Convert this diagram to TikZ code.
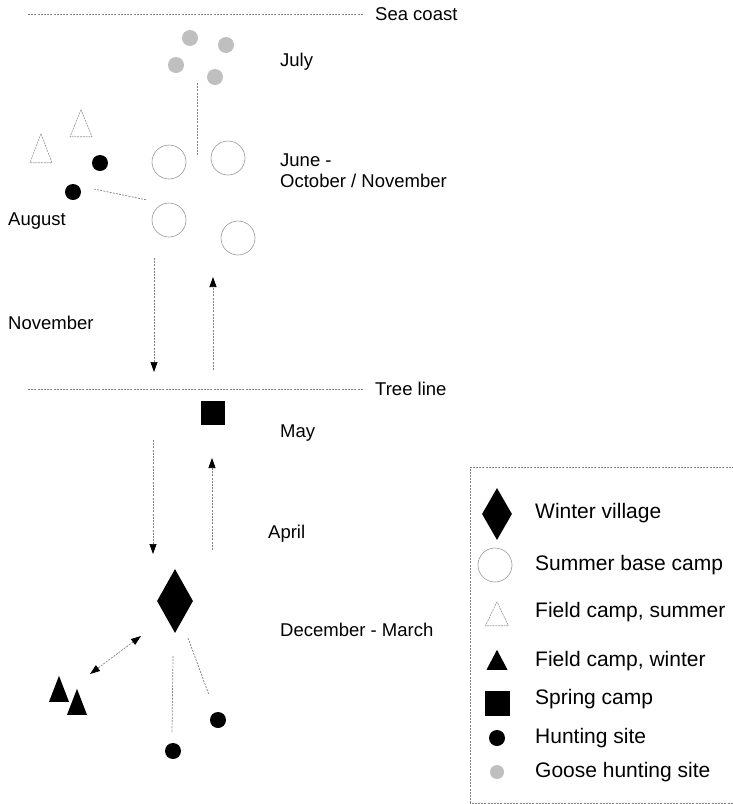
\documentclass[tikz,border=0pt]{standalone}
\usepackage{fontspec}
\setmainfont{Liberation Sans}
\usetikzlibrary{shapes.geometric,arrows.meta}
\tikzstyle{huntSite}=[shape = circle, minimum size = 16pt, inner sep = 0pt, fill = black]
\tikzstyle{gooseSite}=[shape = circle, minimum size = 16pt, inner sep = 0pt, fill = gray!50]
\tikzstyle{baseCamp}=[shape = circle, minimum size = 34pt, inner sep = 0pt, draw = gray!80, line width = 0.6pt]
\tikzstyle{fieldSummer}=[shape = isosceles triangle, shape border rotate = 90, isosceles triangle stretches, minimum width = 22pt, minimum height = 27pt, inner sep = 0pt, anchor = south, draw = gray!80, line width = 0.6pt, dash pattern = on 2pt off 0.8pt]
\tikzstyle{fieldWinter}=[shape = isosceles triangle, shape border rotate = 90, isosceles triangle stretches, minimum width = 20pt, minimum height = 26pt, inner sep = 0pt, anchor = south, fill = black]
\tikzstyle{winterVillage}=[shape = diamond, minimum width = 36pt, minimum height = 64pt, inner sep = 0pt, fill = black]
\tikzstyle{springCamp}=[shape = rectangle, minimum size = 24pt, inner sep = 0pt, fill = black]

\begin{document}
\begin{tikzpicture}[x = 1pt, y = -1pt]
\tikzstyle{monthText} = [anchor = west, inner sep = 0pt, font = \fontsize{18.5}{22}\selectfont]
\tikzstyle{keyText} = [anchor = west, inner sep = 0pt, font = \fontsize{21}{25}\selectfont]
\tikzstyle{trail} = [gray, line width = 0.7pt, dash pattern = on 2pt off 1.2pt]
\tikzstyle{move} = [trail, -{Triangle[length = 10pt, width = 7pt, black]}]
\tikzstyle{moveBoth} = [trail, {Triangle[length = 10pt, width = 7pt, black]}-{Triangle[length = 10pt, width = 7pt, black]}]
\useasboundingbox (0,0) rectangle (733,804);
% lines
\coordinate (seaL) at (28,14);
\coordinate (seaR) at (364,14);
\coordinate (treeL) at (28,389);
\coordinate (treeR) at (364,389);
\draw[trail] (seaL) -- (seaR);
\draw[trail] (treeL) -- (treeR);
\node[monthText] (sea) at (375,14) {Sea coast};
\node[monthText] (tree) at (375,389) {Tree line};
% summer, coast
\node[gooseSite] (g0) at (190,38) {};
\node[gooseSite] (g1) at (226,45) {};
\node[gooseSite] (g2) at (176,65) {};
\node[gooseSite] (g3) at (215,77) {};
\node[baseCamp] (c0) at (169,162) {};
\node[baseCamp] (c1) at (228,158) {};
\node[baseCamp] (c2) at (169,220) {};
\node[baseCamp] (c3) at (238,238) {};
\node[fieldSummer] (f0) at (81,137) {};
\node[fieldSummer, minimum height = 29pt] (f1) at (41,163) {};
\node[huntSite] (h0) at (100,163) {};
\node[huntSite] (h1) at (73,192) {};
\coordinate (gooseEnd) at (197,83);
\coordinate (campTop) at (197,155);
\draw[trail] (gooseEnd) -- (campTop);
\coordinate (huntEnd) at (94,189);
\coordinate (campLeft) at (147,200);
\draw[trail] (huntEnd) -- (campLeft);
\node[monthText] (july) at (280,62) {July};
\node[monthText] (june) at (280,160) {June -};
\node[monthText] (octnov) at (280,181) {October / November};
\node[monthText] (aug) at (8,221) {August};
% moving
\coordinate (n0) at (154,258);
\coordinate (n1) at (154,372);
\coordinate (m0) at (213,370);
\coordinate (m1) at (213,277);
\draw[move] (n0) -- (n1);
\draw[move] (m0) -- (m1);
\node[monthText] (nov) at (8,323) {November};
% spring
\node[springCamp] (s0) at (213,413) {};
\node[monthText] (may) at (280,433) {May};
\coordinate (d0) at (153,440);
\coordinate (d1) at (153,554);
\coordinate (a0) at (212,550);
\coordinate (a1) at (212,458);
\draw[move] (d0) -- (d1);
\draw[move] (a0) -- (a1);
\node[monthText] (apr) at (268,534) {April};
% winter
\node[winterVillage] (w0) at (175,601) {};
\node[monthText] (dec) at (280,630) {December - March};
\node[fieldWinter] (t0) at (59,702) {};
\node[fieldWinter] (t1) at (77,715) {};
\node[huntSite] (h2) at (218,720) {};
\node[huntSite] (h3) at (173,751) {};
\coordinate (v0) at (141,636);
\coordinate (v1) at (90,674);
\draw[moveBoth] (v0) -- (v1);
\coordinate (v2) at (173,656);
\coordinate (v3) at (172,733);
\draw[trail] (v2) -- (v3);
\coordinate (v4) at (188,638);
\coordinate (v5) at (209,695);
\draw[trail] (v4) -- (v5);
% key
\draw[trail] (734,467) -- (470,467) -- (470,803) -- (734,803);
\node[winterVillage, minimum width = 30pt, minimum height = 52pt] (k0) at (497,514) {};
\node[baseCamp] (k1) at (495,565) {};
\node[fieldSummer, minimum width = 23pt, minimum height = 24pt] (k2) at (497,626) {};
\node[fieldWinter, minimum width = 21pt, minimum height = 20pt] (k3) at (497,670) {};
\node[springCamp, minimum size = 25pt] (k4) at (497,703) {};
\node[huntSite] (k5) at (497,738) {};
\node[gooseSite, minimum size = 14pt] (k6) at (497,772) {};
\node[keyText] (l0) at (535,513) {Winter village};
\node[keyText] (l1) at (535,565) {Summer base camp};
\node[keyText] (l2) at (535,612) {Field camp, summer};
\node[keyText] (l3) at (535,661) {Field camp, winter};
\node[keyText] (l4) at (535,699) {Spring camp};
\node[keyText] (l5) at (535,738) {Hunting site};
\node[keyText] (l6) at (535,772) {Goose hunting site};
\end{tikzpicture}
\end{document}
